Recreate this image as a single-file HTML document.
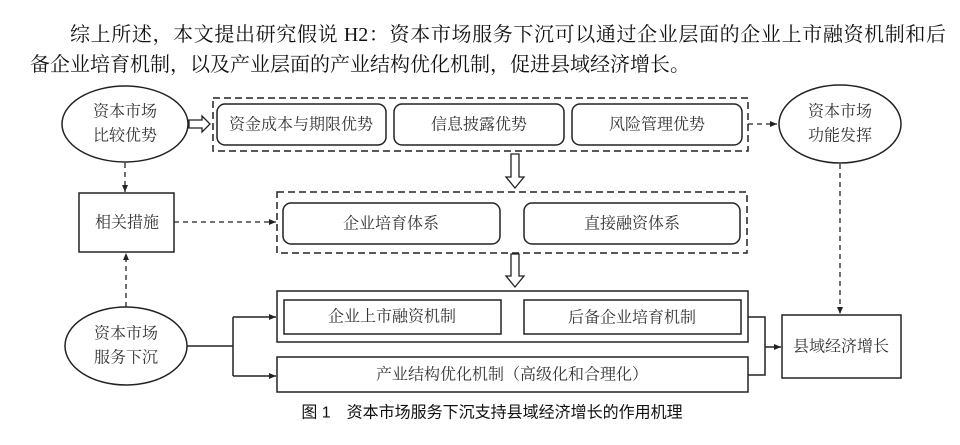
<!DOCTYPE html>
<html><head><meta charset="utf-8"><style>
html,body{margin:0;padding:0;background:#fff;width:960px;height:445px;overflow:hidden}
.p{position:absolute;font-family:"Liberation Serif","Noto Serif CJK SC",serif;font-size:20px;color:#111;white-space:nowrap}
svg{position:absolute;left:0;top:0}
svg text{font-family:"Liberation Serif","Noto Serif CJK SC",serif;font-size:16px;fill:#333;text-anchor:middle;dominant-baseline:central}
</style></head><body>
<div class="p" style="left:70px;top:18px;width:876px;text-align-last:justify;text-align:justify">综上所述，本文提出研究假说 H2：资本市场服务下沉可以通过企业层面的企业上市融资机制和后</div>
<div class="p" style="left:30px;top:48px">备企业培育机制，以及产业层面的产业结构优化机制，促进县域经济增长。</div>
<svg width="960" height="445" viewBox="0 0 960 445">
<defs><marker id="a" markerWidth="8" markerHeight="8" refX="7" refY="4" orient="auto" markerUnits="userSpaceOnUse"><path d="M0,1 L7,4 L0,7z" fill="#222"/></marker></defs>
<g fill="none" stroke="#222" stroke-width="1.5">
<ellipse cx="125" cy="124" rx="63" ry="38"/>
<ellipse cx="840" cy="124" rx="61" ry="39"/>
<ellipse cx="126" cy="346" rx="61" ry="39"/>
<rect x="213" y="98" width="535" height="53" stroke-dasharray="7,4"/>
<rect x="217" y="104" width="169" height="41" rx="8"/>
<rect x="394" y="104" width="170" height="41" rx="8"/>
<rect x="572" y="104" width="170" height="41" rx="8"/>
<rect x="277" y="192" width="470" height="61" stroke-dasharray="7,4"/>
<rect x="283" y="203" width="217" height="41" rx="8"/>
<rect x="524" y="203" width="216" height="41" rx="8"/>
<rect x="79" y="193" width="95" height="59"/>
<rect x="277" y="291" width="471" height="51"/>
<rect x="284" y="300" width="217" height="34"/>
<rect x="524" y="300" width="217" height="34"/>
<rect x="277" y="357" width="471" height="35"/>
<rect x="782" y="315" width="119" height="63"/>
<!-- hollow arrows -->
<path d="M189,120 h13 v-4 l8,8 l-8,8 v-4 h-13z" stroke-width="1.3"/>
<path d="M511,154 v23 h-5 l9,11 l9,-11 h-5 v-23z" stroke-width="1.3"/>
<path d="M511,254 v22 h-5 l9,11 l9,-11 h-5 v-22z" stroke-width="1.3"/>
<!-- dashed arrows -->
<g stroke-dasharray="5,4" stroke-width="1.3">
<path d="M748,124 H777" marker-end="url(#a)"/>
<path d="M125,163 V192" marker-end="url(#a)"/>
<path d="M174,222 H276" marker-end="url(#a)"/>
<path d="M126,307 V253" marker-end="url(#a)"/>
<path d="M840,164 V314" marker-end="url(#a)"/>
</g>
<!-- solid connectors -->
<path d="M187,346 H233 M233,317 V376"/>
<path d="M233,317 H276" marker-end="url(#a)"/>
<path d="M233,376 H276" marker-end="url(#a)"/>
<path d="M748,317 H765 V375 H748"/>
<path d="M765,347 H781" marker-end="url(#a)"/>
</g>
<text x="125" y="112">资本市场</text><text x="125" y="136">比较优势</text>
<text x="840" y="112">资本市场</text><text x="840" y="136">功能发挥</text>
<text x="126" y="334">资本市场</text><text x="126" y="358">服务下沉</text>
<text x="301" y="125">资金成本与期限优势</text>
<text x="479" y="125">信息披露优势</text>
<text x="657" y="125">风险管理优势</text>
<text x="127" y="223">相关措施</text>
<text x="391" y="224">企业培育体系</text>
<text x="632" y="224">直接融资体系</text>
<text x="392" y="317">企业上市融资机制</text>
<text x="632" y="318">后备企业培育机制</text>
<text x="512" y="375">产业结构优化机制（高级化和合理化）</text>
<text x="841" y="347">县域经济增长</text>
<text x="492" y="413" style="font-family:'Liberation Sans','Noto Sans CJK SC',sans-serif;font-size:16px;fill:#111">图 1　资本市场服务下沉支持县域经济增长的作用机理</text>
</svg>
</body></html>
